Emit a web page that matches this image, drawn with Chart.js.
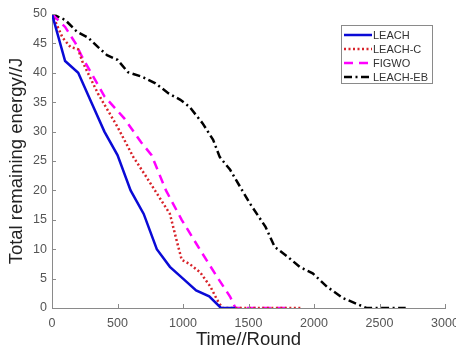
<!DOCTYPE html>
<html>
<head>
<meta charset="utf-8">
<script src="https://cdn.jsdelivr.net/npm/chart.js@4"></script>
<style>
body{margin:0;background:#fff;}
#wrap{width:456px;height:351px;}
</style>
</head>
<body>
<div id="wrap"><canvas id="myChart" width="456" height="351"></canvas></div>
<script>
'use strict'
// values
let xTicks=[0,500,1000,1500,2000,2500,3000];
let yTicks=[0,5,10,15,20,25,30,35,40,45,50];

let leachX=[0,100,200,300,400,500,600,700,800,900,1000,1100,1200,1290,1400];
let leachY=[50,42,40,35,30,26,20,16,10,7,5,3,2,0,0];

let leachCX=[0,80,140,200,230,350,500,620,720,800,900,950,990,1050,1130,1210,1260,1300,1900];
let leachCY=[50,46,44.4,44,42,36.5,30.8,25.7,22.3,19.5,16,11.6,8.2,7.5,6.1,3.6,1.4,0,0];

let figwoX=[0,100,180,230,400,550,680,760,870,990,1130,1260,1360,1400,1820];
let figwoY=[50,47.8,45,42.7,36,32.3,28.2,26,20,15,9.9,5.3,1.9,0,0];

let ebX=[0,100,190,275,350,420,500,580,690,790,890,980,1050,1150,1230,1280,1360,1510,1630,1700,1800,1890,1990,2100,2220,2400,2700];
let ebY=[50,49,47,46,44.4,43,42.2,40.1,39.3,38.2,36.5,35.4,34.2,31.4,28.6,25.7,23.5,17.8,13.8,10.4,8.7,7,5.9,3.6,1.7,0,0];

let names=['LEACH','LEACH-C','FIGWO','LEACH-EB'];

let fontFam='"Liberation Sans", Arial, sans-serif';

function pts(xs,ys){
  let out=[];
  for(let i=0;i<xs.length;i++){
    out.push({x:xs[i],y:ys[i]});
  }
  return out;
}

// inward tick marks
let innerTicks={
  id:'innerTicks',
  afterDraw(chart){
    let ctx=chart.ctx;
    let xs=chart.scales.x, ys=chart.scales.y;
    let a=chart.chartArea;
    ctx.save();
    ctx.strokeStyle='#8a8a8a';
    ctx.lineWidth=1;
    ctx.beginPath();
    for(let v of xTicks){
      let px=Math.round(xs.getPixelForValue(v))+0.5;
      ctx.moveTo(px,a.bottom);ctx.lineTo(px,a.bottom-4);
    }
    for(let v of yTicks){
      let py=Math.round(ys.getPixelForValue(v))+0.5;
      ctx.moveTo(a.left,py);ctx.lineTo(a.left+4,py);
    }
    ctx.stroke();
    ctx.restore();
  }
};

// legend box inside the plot
let boxLegend={
  id:'boxLegend',
  afterDraw(chart){
    let ctx=chart.ctx;
    ctx.save();
    ctx.fillStyle='#fff';
    ctx.fillRect(341,25,91,58);
    ctx.strokeStyle='#8a8a8a';
    ctx.lineWidth=1;
    ctx.strokeRect(341.5,25.5,91,58);
    ctx.font='11px '+fontFam;
    ctx.textBaseline='middle';
    chart.data.datasets.forEach((ds,i)=>{
      let y=35+i*14;
      ctx.strokeStyle=ds.borderColor;
      ctx.lineWidth=ds.borderWidth;
      ctx.setLineDash(ds.borderDash||[]);
      ctx.beginPath();
      ctx.moveTo(344,y);ctx.lineTo(372,y);
      ctx.stroke();
      ctx.setLineDash([]);
      ctx.fillStyle='#333';
      ctx.fillText(ds.label,373,y+0.5);
    });
    ctx.restore();
  }
};

let ctx=document.getElementById('myChart').getContext('2d');
let myChart=new Chart(ctx,{
  type:'scatter',
  data:{
    datasets:[
      {label:names[0],data:pts(leachX,leachY),showLine:true,borderColor:'#0a0ad6',borderWidth:2.5,pointRadius:0,borderDash:[]},
      {label:names[1],data:pts(leachCX,leachCY),showLine:true,borderColor:'#d8232a',borderWidth:2.5,pointRadius:0,borderDash:[2,2.5]},
      {label:names[2],data:pts(figwoX,figwoY),showLine:true,borderColor:'#ff00ff',borderWidth:2.5,pointRadius:0,borderDash:[9,6]},
      {label:names[3],data:pts(ebX,ebY),showLine:true,borderColor:'#000',borderWidth:2.5,pointRadius:0,borderDash:[8,3.5,2,3.5]}
    ]
  },
  options:{
    responsive:false,
    animation:false,
    layout:{padding:{top:14,right:11,left:0,bottom:0}},
    plugins:{legend:{display:false},tooltip:{enabled:false}},
    scales:{
      x:{
        type:'linear',min:0,max:3000,
        afterBuildTicks(s){s.ticks=xTicks.map(v=>({value:v}));},
        afterFit(s){s.height=43;s.paddingLeft=0;s.paddingRight=0;},
        grid:{display:false,drawTicks:false},
        border:{display:true,color:'#8a8a8a',width:1},
        ticks:{padding:8,color:'#555',font:{family:fontFam,size:12.5},maxRotation:0,callback:v=>String(v)},
        title:{display:true,text:'Time//Round',color:'#222',font:{family:fontFam,size:18.5},padding:{top:0,bottom:0}}
      },
      y:{
        type:'linear',min:0,max:50,
        afterBuildTicks(s){s.ticks=yTicks.map(v=>({value:v}));},
        afterFit(s){s.width=52;s.paddingTop=0;s.paddingBottom=0;},
        grid:{display:false,drawTicks:false},
        border:{display:true,color:'#8a8a8a',width:1},
        ticks:{padding:5,color:'#555',font:{family:fontFam,size:12.5},callback:v=>String(v)},
        title:{display:true,text:'Total remaining energy//J',color:'#222',font:{family:fontFam,size:18.5},padding:{top:6,bottom:0}}
      }
    }
  },
  plugins:[innerTicks,boxLegend]
});
</script>
</body>
</html>
